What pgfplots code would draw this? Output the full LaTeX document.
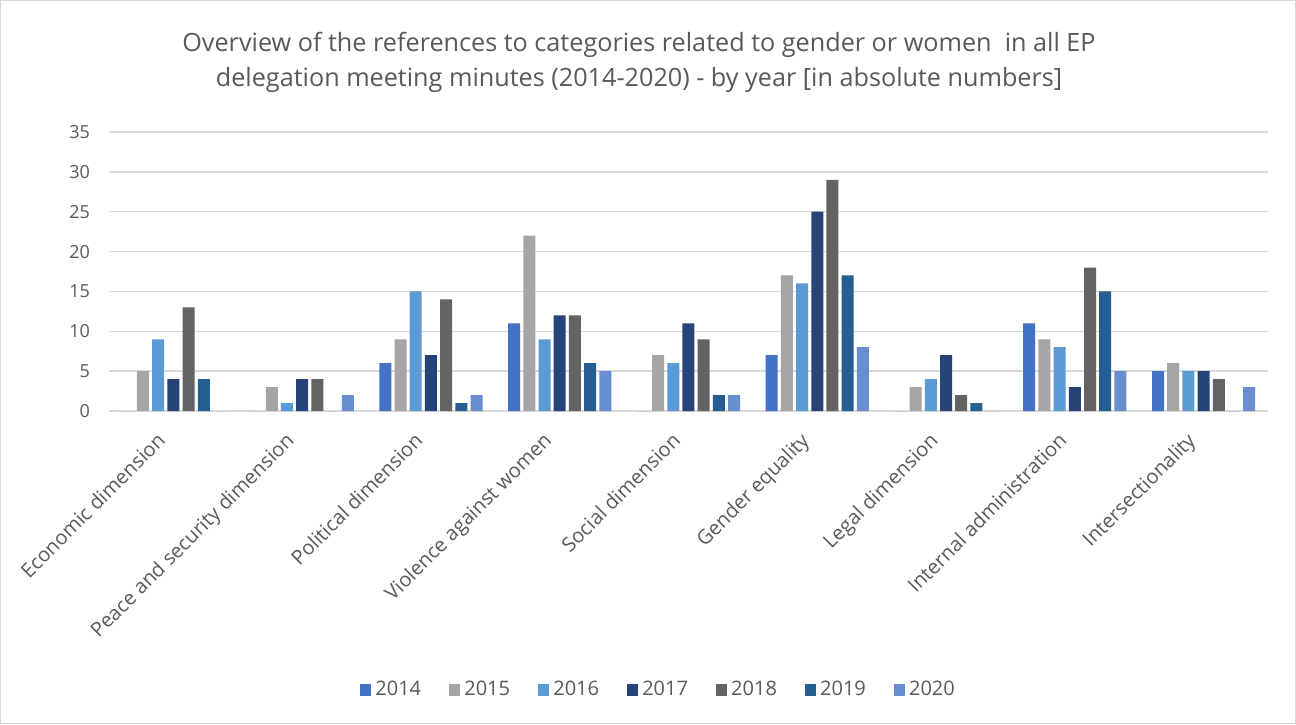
\documentclass[border=0pt]{standalone}
\usepackage{pgfplots}
\pgfplotsset{compat=1.18}
\usepackage{fontspec}
\setmainfont{Open Sans}
\definecolor{c14}{HTML}{4472C4}
\definecolor{c15}{HTML}{A5A5A5}
\definecolor{c16}{HTML}{5B9BD5}
\definecolor{c17}{HTML}{264478}
\definecolor{c18}{HTML}{636363}
\definecolor{c19}{HTML}{255E91}
\definecolor{c20}{HTML}{698ED0}
\definecolor{txt}{HTML}{595959}
\definecolor{gridc}{HTML}{D9D9D9}
\begin{document}
\begin{tikzpicture}[x=1pt,y=1pt]
\draw[fill=white, draw=gridc, line width=0.7pt] (0.35,0.35) rectangle (647.65,361.65);
\node[text=txt, font=\fontsize{12.6}{17.5}\selectfont, align=center] at (319.5,331)
 {Overview of the references to categories related to gender or women\ \ in all EP\\delegation meeting minutes (2014-2020) - by year [in absolute numbers]};
\begin{axis}[
  at={(54.5pt,156.5pt)}, anchor=south west, scale only axis,
  width=579.5pt, height=139.5pt,
  ymin=0, ymax=35, xmin=-0.5, xmax=8.5,
  ybar=1.6pt, bar width=6pt,
  axis line style={draw=none},
  ymajorgrids, grid style={gridc, line width=0.75pt},
  ytick={0,5,...,35},
  xtick={0,...,8},
  xticklabels={Economic dimension,Peace and security dimension,Political dimension,Violence against women,Social dimension,Gender equality,Legal dimension,Internal administration,Intersectionality},
  major tick length=0pt,
  tick style={draw=none},
  /pgf/number format/assume math mode=true,
  yticklabel style={font=\fontsize{9}{10}\selectfont, text=txt, xshift=-6pt},
  xticklabel style={font=\fontsize{10}{11}\selectfont, text=txt, xshift=-8.9pt, yshift=-9.9pt, rotate=45, anchor=north east, inner sep=0pt},
  legend columns=7,
  legend style={at={(0.475,-1.0)}, anchor=center, draw=none, fill=none, font=\fontsize{10}{11}\selectfont, text=txt,
    /tikz/every even column/.append style={column sep=12pt}},
  legend image code/.code={\fill[#1] (0pt,-2.8pt) rectangle (5.6pt,2.8pt);},
  clip=false,
]
\addplot[fill=c14, draw=none] coordinates {(0,0) (1,0) (2,6) (3,11) (4,0) (5,7) (6,0) (7,11) (8,5)};
\addplot[fill=c15, draw=none] coordinates {(0,5) (1,3) (2,9) (3,22) (4,7) (5,17) (6,3) (7,9) (8,6)};
\addplot[fill=c16, draw=none] coordinates {(0,9) (1,1) (2,15) (3,9) (4,6) (5,16) (6,4) (7,8) (8,5)};
\addplot[fill=c17, draw=none] coordinates {(0,4) (1,4) (2,7) (3,12) (4,11) (5,25) (6,7) (7,3) (8,5)};
\addplot[fill=c18, draw=none] coordinates {(0,13) (1,4) (2,14) (3,12) (4,9) (5,29) (6,2) (7,18) (8,4)};
\addplot[fill=c19, draw=none] coordinates {(0,4) (1,0) (2,1) (3,6) (4,2) (5,17) (6,1) (7,15) (8,0)};
\addplot[fill=c20, draw=none] coordinates {(0,0) (1,2) (2,2) (3,5) (4,2) (5,8) (6,0) (7,5) (8,3)};
\legend{2014,2015,2016,2017,2018,2019,2020}
\end{axis}
\end{tikzpicture}
\end{document}
